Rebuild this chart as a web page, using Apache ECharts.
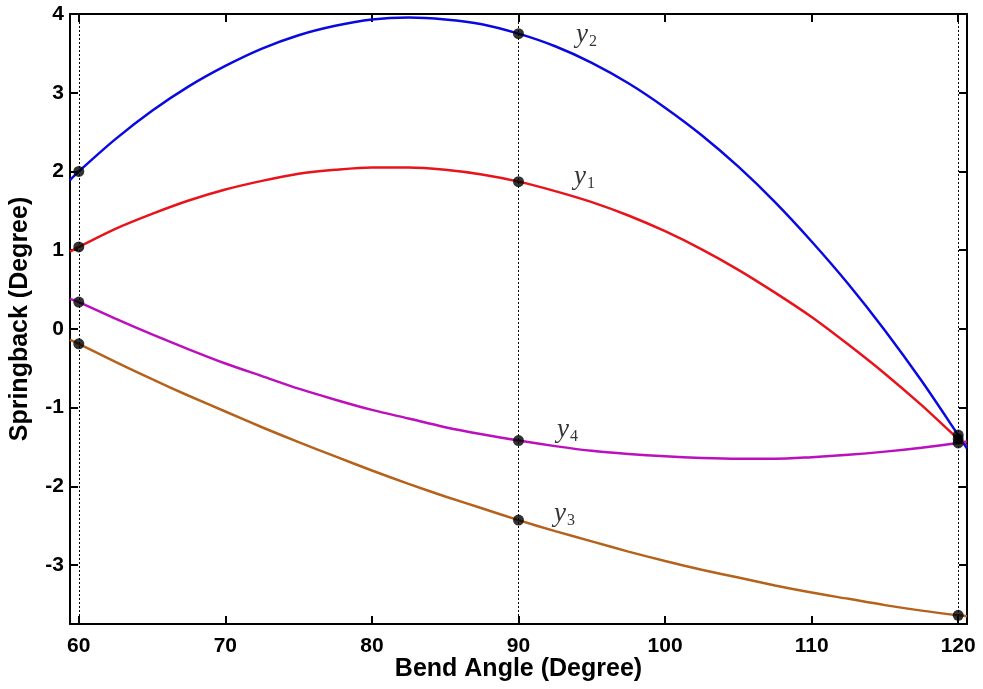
<!DOCTYPE html>
<html>
<head>
<meta charset="utf-8">
<script src="https://cdn.jsdelivr.net/npm/echarts@6/dist/echarts.min.js"></script>
<style>
  html, body { margin: 0; padding: 0; background: #fff; }
  #chart { width: 983px; height: 689px; }
</style>
</head>
<body>
<div id="chart"></div>
<script>
// Bend angle samples (degrees) along each fitted springback curve
const bendAngle = [59.4, 60, 62.5, 65, 67.5, 70, 72.5, 75, 77.5, 80, 82.5, 85, 87.5, 90,
                   92.5, 95, 97.5, 100, 102.5, 105, 107.5, 110, 112.5, 115, 117.5, 120, 120.6];

// Springback (degrees) for each response
const y1 = [0.98, 1.04, 1.27, 1.46, 1.63, 1.77, 1.88, 1.97, 2.02, 2.05, 2.05, 2.02, 1.96, 1.87,
            1.75, 1.61, 1.44, 1.24, 1.01, 0.75, 0.46, 0.15, -0.20, -0.57, -0.97, -1.40, -1.49];
const y2 = [1.89, 2.00, 2.41, 2.77, 3.08, 3.34, 3.56, 3.73, 3.85, 3.93, 3.955, 3.93, 3.87, 3.75,
            3.59, 3.38, 3.12, 2.81, 2.46, 2.06, 1.61, 1.11, 0.57, -0.02, -0.66, -1.35, -1.52];
const y3 = [-0.14, -0.19, -0.42, -0.64, -0.85, -1.05, -1.25, -1.44, -1.62, -1.80, -1.97, -2.13, -2.28, -2.43,
            -2.57, -2.70, -2.83, -2.95, -3.06, -3.16, -3.26, -3.35, -3.43, -3.51, -3.58, -3.64, -3.65];
const y4 = [0.38, 0.34, 0.13, -0.07, -0.26, -0.44, -0.60, -0.76, -0.90, -1.03, -1.14, -1.25, -1.34, -1.42,
            -1.49, -1.55, -1.59, -1.62, -1.64, -1.65, -1.65, -1.63, -1.60, -1.56, -1.51, -1.45, -1.43];

// Measured bend angles (dotted guides and black markers)
const measuredAngles = [60, 90, 120];

const xTicks = [60, 70, 80, 90, 100, 110, 120];
const yTicks = [-3, -2, -1, 0, 1, 2, 3, 4];

const curves = [
  { name: 'y1', sub: '1', values: y1, color: '#e8141c', labelOffset: [50, -5] },
  { name: 'y2', sub: '2', values: y2, color: '#0a0ae0', labelOffset: [52, 1] },
  { name: 'y3', sub: '3', values: y3, color: '#b5631c', labelOffset: [30, -6] },
  { name: 'y4', sub: '4', values: y4, color: '#bb10bb', labelOffset: [33, -11] }
];

const axisFont = { fontFamily: 'Liberation Sans, Arial, sans-serif', fontWeight: 'bold', fontSize: 21, color: '#000' };
const titleFont = { fontFamily: 'Liberation Sans, Arial, sans-serif', fontWeight: 'bold', fontSize: 25, color: '#000' };
const black = '#000';

const series = [];

// Dotted vertical guides at the measured angles
series.push({
  type: 'line',
  data: [],
  silent: true,
  markLine: {
    symbol: 'none',
    silent: true,
    label: { show: false },
    lineStyle: { color: black, type: [2, 2], width: 1 },
    data: measuredAngles.map(a => ({ xAxis: a }))
  }
});

curves.forEach(c => {
  series.push({
    name: c.name,
    type: 'line',
    smooth: 0.3,
    showSymbol: false,
    lineStyle: { color: c.color, width: 2.5 },
    data: bendAngle.map((a, i) => [a, c.values[i]]),
    z: 3
  });
  series.push({
    type: 'scatter',
    symbol: 'circle',
    symbolSize: 11,
    itemStyle: { color: black },
    z: 5,
    data: bendAngle
      .map((a, i) => [a, c.values[i]])
      .filter(p => measuredAngles.includes(p[0]))
      .map(p => p[0] === 90 ? {
        value: p,
        label: {
          show: true,
          position: 'right',
          distance: 0,
          offset: c.labelOffset,
          formatter: '{v|y}{s|' + c.sub + '}',
          rich: {
            v: { fontFamily: 'Liberation Serif, Times New Roman, serif', fontStyle: 'italic', fontSize: 27, color: '#000', lineHeight: 28 },
            s: { fontFamily: 'Liberation Serif, Times New Roman, serif', fontSize: 16, color: '#000', padding: [14, 0, 0, 1] }
          }
        }
      } : { value: p })
  });
});

const chart = echarts.init(document.getElementById('chart'), null, { renderer: 'canvas' });
chart.setOption({
  animation: false,
  backgroundColor: '#fff',
  grid: { left: 70, right: 16, top: 14, bottom: 65, containLabel: false, outerBoundsMode: 'none' },
  xAxis: [
    {
      type: 'value', min: 59.4, max: 120.6, splitNumber: 6,
      name: 'Bend Angle (Degree)', nameLocation: 'middle', nameGap: 33, nameMoveOverlap: false,
      nameTextStyle: titleFont,
      axisLine: { onZero: false, lineStyle: { color: black, width: 2 } },
      axisTick: { inside: true, length: 8, lineStyle: { color: black, width: 2 } },
      axisLabel: {
        ...axisFont, margin: 12, showMinLabel: false, showMaxLabel: false,
        formatter: v => xTicks.includes(v) ? String(v) : ''
      },
      splitLine: { show: false }
    },
    {
      type: 'value', position: 'top', min: 59.4, max: 120.6, splitNumber: 6,
      axisLine: { onZero: false, lineStyle: { color: black, width: 2 } },
      axisTick: { inside: true, length: 8, lineStyle: { color: black, width: 2 } },
      axisLabel: { show: false },
      splitLine: { show: false }
    }
  ],
  yAxis: [
    {
      type: 'value', min: -3.75, max: 4, splitNumber: 8,
      name: 'Springback (Degree)', nameLocation: 'middle', nameGap: 37, nameMoveOverlap: false,
      nameTextStyle: titleFont,
      axisLine: { onZero: false, lineStyle: { color: black, width: 2 } },
      axisTick: { inside: true, length: 8, lineStyle: { color: black, width: 2 } },
      axisLabel: {
        ...axisFont, margin: 6, showMinLabel: false,
        formatter: v => yTicks.includes(v) ? String(v) : ''
      },
      splitLine: { show: false }
    },
    {
      type: 'value', position: 'right', min: -3.75, max: 4, splitNumber: 8,
      axisLine: { onZero: false, lineStyle: { color: black, width: 2 } },
      axisTick: { inside: true, length: 8, lineStyle: { color: black, width: 2 } },
      axisLabel: { show: false },
      splitLine: { show: false }
    }
  ],
  series: series
});
</script>
</body>
</html>
